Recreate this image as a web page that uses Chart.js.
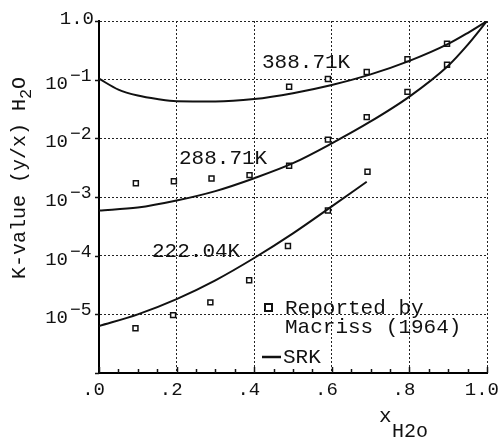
<!DOCTYPE html>
<html>
<head>
<meta charset="utf-8">
<script src="https://cdn.jsdelivr.net/npm/chart.js@4.4.1/dist/chart.umd.min.js"></script>
<style>
  html, body { margin: 0; padding: 0; background: #fff; }
  canvas { display: block; }
</style>
</head>
<body>
<canvas id="chart" width="499" height="440"></canvas>
<script>
// Axis ticks
const xTickValues = [0, 0.2, 0.4, 0.6, 0.8, 1.0];
const xTickLabels = ['.0', '.2', '.4', '.6', '.8', '1.0'];
const yGridValues = [1e-6, 1e-5, 1e-4, 1e-3, 1e-2, 1e-1, 1];
const yLabelValues = [1, 1e-1, 1e-2, 1e-3, 1e-4, 1e-5];
const yLabelExps = [null, -1, -2, -3, -4, -5];

// SRK curves
const srk388X = [0, 0.05, 0.1, 0.15, 0.2, 0.3, 0.4, 0.5, 0.6, 0.7, 0.8, 0.9, 0.95, 1.0];
const srk388K = [0.104, 0.0678, 0.0536, 0.0467, 0.0428, 0.0424, 0.0467, 0.0589, 0.0813, 0.123, 0.209, 0.407, 0.624, 1.0];
const srk288X = [0, 0.1, 0.2, 0.3, 0.4, 0.5, 0.6, 0.7, 0.8, 0.9, 0.95, 1.0];
const srk288K = [5.89e-4, 6.61e-4, 8.71e-4, 1.26e-3, 2.09e-3, 3.77e-3, 8.22e-3, 0.0194, 0.0515, 0.173, 0.392, 1.0];
const srk222X = [0, 0.1, 0.2, 0.3, 0.4, 0.5, 0.6, 0.69];
const srk222K = [6.31e-6, 1.0e-5, 1.82e-5, 3.80e-5, 9.12e-5, 2.40e-4, 6.92e-4, 1.82e-3];

// Reported by Macriss (1964)
const rep388X = [0.49, 0.59, 0.69, 0.795, 0.897];
const rep388K = [0.0758, 0.103, 0.135, 0.224, 0.408];
const rep288X = [0.095, 0.193, 0.29, 0.388, 0.49, 0.59, 0.69, 0.795, 0.897];
const rep288K = [1.71e-3, 1.85e-3, 2.07e-3, 2.36e-3, 3.42e-3, 9.5e-3, 0.0230, 0.0619, 0.180];
const rep222X = [0.094, 0.191, 0.287, 0.387, 0.487, 0.59, 0.692];
const rep222K = [5.8e-6, 9.7e-6, 1.6e-5, 3.8e-5, 1.46e-4, 5.9e-4, 2.7e-3];

const isoLabels = ['388.71K', '288.71K', '222.04K'];

const MONO = '"Liberation Mono", "DejaVu Sans Mono", monospace';
const INK = '#111';

const pairs = (xs, ys) => xs.map((x, i) => ({ x, y: ys[i] }));

function lineSet(xs, ys) {
    return {
        data: pairs(xs, ys),
        showLine: true,
        pointRadius: 0,
        borderColor: INK,
        borderWidth: 2,
        cubicInterpolationMode: 'monotone',
        fill: false
    };
}

function pointSet(xs, ys) {
    return {
        data: pairs(xs, ys),
        showLine: false,
        pointStyle: 'rect',
        pointRadius: 3.5,
        pointBorderWidth: 1.5,
        pointBackgroundColor: '#fff',
        pointBorderColor: INK
    };
}

const decorPlugin = {
    id: 'decor',
    beforeDraw(chart) {
        const { ctx, width, height } = chart;
        ctx.save();
        ctx.fillStyle = '#fff';
        ctx.fillRect(0, 0, width, height);
        ctx.restore();
    },
    afterDraw(chart) {
        const { ctx, chartArea } = chart;
        const xs = chart.scales.x, ys = chart.scales.y;
        ctx.save();
        ctx.fillStyle = INK;
        ctx.strokeStyle = INK;

        // y tick marks + labels
        ctx.lineWidth = 1.5;
        yGridValues.forEach(v => {
            const py = Math.round(ys.getPixelForValue(v)) + 0.5;
            ctx.beginPath();
            ctx.moveTo(chartArea.left - 4, py);
            ctx.lineTo(chartArea.left, py);
            ctx.stroke();
        });
        yLabelValues.forEach((v, i) => {
            const py = ys.getPixelForValue(v);
            const exp = yLabelExps[i];
            if (exp === null) {
                ctx.font = '19px ' + MONO;
                ctx.textAlign = 'right';
                ctx.textBaseline = 'middle';
                ctx.fillText('1.0', 94, py - 2);
            } else {
                ctx.font = '19px ' + MONO;
                ctx.textAlign = 'right';
                ctx.textBaseline = 'middle';
                ctx.fillText('10', 68, py + 4);
                ctx.font = '18px ' + MONO;
                ctx.textAlign = 'left';
                ctx.textBaseline = 'alphabetic';
                ctx.fillText('\u2212' + Math.abs(exp), 70, py + 1);
            }
        });

        // x minor ticks every 0.05
        ctx.lineWidth = 1.5;
        for (let k = 0; k <= 20; k++) {
            const px = Math.round(xs.getPixelForValue(k * 0.05)) + 0.5;
            ctx.beginPath();
            ctx.moveTo(px, chartArea.bottom);
            ctx.lineTo(px, chartArea.bottom - (k % 4 === 0 ? 6 : 4));
            ctx.stroke();
        }

        // x tick labels
        ctx.font = '19px ' + MONO;
        ctx.textAlign = 'right';
        ctx.textBaseline = 'middle';
        xTickValues.forEach((v, i) => {
            const px = xs.getPixelForValue(v);
            const lbl = xTickLabels[i];
            const right = lbl.length === 2 ? px + 6 : Math.min(px + 13, 499);
            ctx.fillText(lbl, right, 390);
        });

        // isotherm labels
        ctx.font = '21px ' + MONO;
        ctx.textAlign = 'left';
        ctx.textBaseline = 'middle';
        ctx.fillText(isoLabels[0], 262, 62);
        ctx.fillText(isoLabels[1], 179, 158);
        ctx.fillText(isoLabels[2], 152, 251);

        // legend
        ctx.lineWidth = 2;
        ctx.strokeRect(265, 304, 7, 7);
        ctx.fillText('Reported by', 285, 308);
        ctx.fillText('Macriss (1964)', 285, 327);
        ctx.lineWidth = 2.5;
        ctx.beginPath();
        ctx.moveTo(262, 357);
        ctx.lineTo(281, 357);
        ctx.stroke();
        ctx.fillText('SRK', 283, 357);

        // y axis title (rotated)
        ctx.save();
        ctx.translate(20, 178);
        ctx.rotate(-Math.PI / 2);
        ctx.font = '20px ' + MONO;
        ctx.textBaseline = 'middle';
        ctx.textAlign = 'left';
        const mainPart = 'K-value (y/x) H';
        const subFont = '17px ' + MONO;
        const wMain = ctx.measureText(mainPart).width;
        ctx.font = subFont;
        const wSub = ctx.measureText('2').width;
        ctx.font = '20px ' + MONO;
        const wO = ctx.measureText('O').width;
        const total = wMain + wSub + wO;
        let cx = -total / 2;
        ctx.fillText(mainPart, cx, 0);
        cx += wMain;
        ctx.font = subFont;
        ctx.fillText('2', cx, 6);
        cx += wSub;
        ctx.font = '20px ' + MONO;
        ctx.fillText('O', cx, 0);
        ctx.restore();

        // x axis title
        ctx.font = '21px ' + MONO;
        ctx.textAlign = 'left';
        ctx.textBaseline = 'alphabetic';
        ctx.fillText('x', 379, 422);
        ctx.font = '20px ' + MONO;
        ctx.fillText('H2o', 392, 437);

        ctx.restore();
    }
};

new Chart(document.getElementById('chart'), {
    type: 'scatter',
    data: {
        datasets: [
            lineSet(srk388X, srk388K),
            lineSet(srk288X, srk288K),
            lineSet(srk222X, srk222K),
            pointSet(rep388X, rep388K),
            pointSet(rep288X, rep288K),
            pointSet(rep222X, rep222K)
        ]
    },
    options: {
        responsive: false,
        animation: false,
        layout: { padding: { left: 0, right: 12, top: 21, bottom: 0 } },
        plugins: { legend: { display: false }, tooltip: { enabled: false } },
        scales: {
            x: {
                type: 'linear',
                min: 0,
                max: 1,
                ticks: { display: false, stepSize: 0.2 },
                afterBuildTicks: (scale) => { scale.ticks = xTickValues.map(v => ({ value: v })); },
                afterFit: (scale) => { scale.height = 67; },
                grid: { color: '#222', lineWidth: 1, drawTicks: false },
                border: { display: true, color: '#000', width: 2, dash: [2, 2] }
            },
            y: {
                type: 'logarithmic',
                min: 1e-6,
                max: 1,
                ticks: { display: false },
                afterBuildTicks: (scale) => { scale.ticks = yGridValues.map(v => ({ value: v })); },
                afterFit: (scale) => { scale.width = 99; },
                grid: { color: '#222', lineWidth: 1, drawTicks: false },
                border: { display: true, color: '#000', width: 2, dash: [2, 2] }
            }
        }
    },
    plugins: [decorPlugin]
});
</script>
</body>
</html>
